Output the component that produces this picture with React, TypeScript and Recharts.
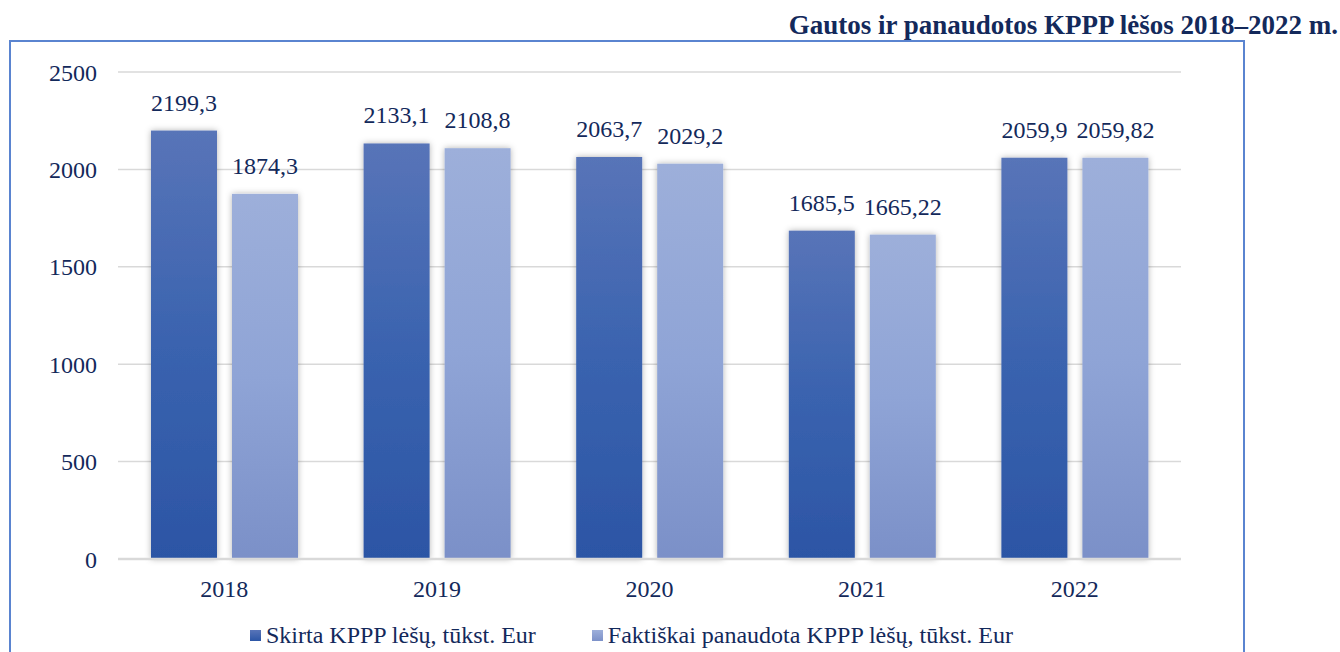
import React from 'react';
import { BarChart, Bar, XAxis, YAxis, CartesianGrid, LabelList, Legend } from 'recharts';

const years = ['2018', '2019', '2020', '2021', '2022'];
const allocated = [2199.3, 2133.1, 2063.7, 1685.5, 2059.9];
const used = [1874.3, 2108.8, 2029.2, 1665.22, 2059.82];
const yTicks = [0, 500, 1000, 1500, 2000, 2500];
const seriesNames = ['Skirta KPPP lėšų, tūkst. Eur', 'Faktiškai panaudota KPPP lėšų, tūkst. Eur'];
const title = 'Gautos ir panaudotos KPPP lėšos 2018–2022 m.';

const data = years.map((y, i) => ({ year: y, a: allocated[i], b: used[i] }));

const FONT = '"Liberation Serif", "Times New Roman", serif';
const TEXT = '#13295B';

const fmt = (v: any) => String(v).replace('.', ',');

const ShadowBar = (fillId: string) => (props: any) => {
  const { x, y, width, height } = props;
  return <rect x={x} y={y} width={width} height={height} fill={`url(#${fillId})`} filter="url(#barShadow)" />;
};

const LegendContent = () => (
  <div style={{ display: 'flex', justifyContent: 'flex-start', paddingLeft: 250, fontFamily: FONT, fontSize: 24, color: TEXT }}>
    <div style={{ display: 'flex', alignItems: 'center', marginRight: 56 }}>
      <span style={{ width: 11, height: 11, background: 'linear-gradient(#5874B8, #2C56A6)', marginRight: 5, display: 'inline-block' }} />
      <span>{seriesNames[0]}</span>
    </div>
    <div style={{ display: 'flex', alignItems: 'center' }}>
      <span style={{ width: 11, height: 11, background: 'linear-gradient(#9DAFDA, #7C91C9)', marginRight: 5, display: 'inline-block' }} />
      <span>{seriesNames[1]}</span>
    </div>
  </div>
);

export default function App() {
  return (
    <div style={{ position: 'absolute', left: 0, top: 0, width: 1340, height: 652, background: '#fff', overflow: 'hidden' }}>
      <div style={{ position: 'absolute', left: 9, top: 40, width: 1236, height: 640, border: '2px solid #5A84D0', boxSizing: 'border-box' }} />
      <div style={{ position: 'absolute', right: 2, top: 10, fontFamily: FONT, fontWeight: 'bold', fontSize: 27, color: TEXT, whiteSpace: 'nowrap', lineHeight: '30px' }}>
        {title}
      </div>
      <div style={{ position: 'absolute', left: 0, top: 0 }}>
        <BarChart width={1340} height={652} data={data} margin={{ top: 72, right: 159, bottom: 53, left: 58 }} barGap={15} barSize={66}>
          <defs>
            <linearGradient id="gradA" x1="0" y1="0" x2="0" y2="1">
              <stop offset="0%" stopColor="#5874B8" />
              <stop offset="50%" stopColor="#3A63AF" />
              <stop offset="100%" stopColor="#2C55A5" />
            </linearGradient>
            <linearGradient id="gradB" x1="0" y1="0" x2="0" y2="1">
              <stop offset="0%" stopColor="#9DAFDA" />
              <stop offset="50%" stopColor="#8FA4D6" />
              <stop offset="100%" stopColor="#7B90C8" />
            </linearGradient>
            <filter id="barShadow" x="-20%" y="-10%" width="140%" height="120%">
              <feDropShadow dx="0" dy="0" stdDeviation="3" floodColor="#000" floodOpacity="0.3" />
            </filter>
          </defs>
          <CartesianGrid vertical={false} stroke="#D9D9D9" strokeWidth={1.5} />
          <XAxis
            dataKey="year"
            height={40}
            axisLine={{ stroke: '#D9D9D9', strokeWidth: 2.5 }}
            tickLine={false}
            tickSize={0}
            tickMargin={21}
            tick={{ fill: TEXT, fontSize: 24, fontFamily: FONT }}
          />
          <YAxis
            width={60}
            domain={[0, 2500]}
            ticks={yTicks}
            axisLine={false}
            tickLine={false}
            tickSize={0}
            tickMargin={21}
            tick={{ fill: TEXT, fontSize: 24, fontFamily: FONT }}
          />
          <Legend
            layout="horizontal"
            verticalAlign="middle"
            align="center"
            content={LegendContent}
            wrapperStyle={{ position: 'absolute', top: 622, left: 0, width: 1340 }}
          />
          <Bar dataKey="a" name={seriesNames[0]} isAnimationActive={false} shape={ShadowBar('gradA')}>
            <LabelList dataKey="a" position="top" offset={20} formatter={fmt} style={{ fill: TEXT, fontSize: 24, fontFamily: FONT }} />
          </Bar>
          <Bar dataKey="b" name={seriesNames[1]} isAnimationActive={false} shape={ShadowBar('gradB')}>
            <LabelList dataKey="b" position="top" offset={20} formatter={fmt} style={{ fill: TEXT, fontSize: 24, fontFamily: FONT }} />
          </Bar>
        </BarChart>
      </div>
    </div>
  );
}
